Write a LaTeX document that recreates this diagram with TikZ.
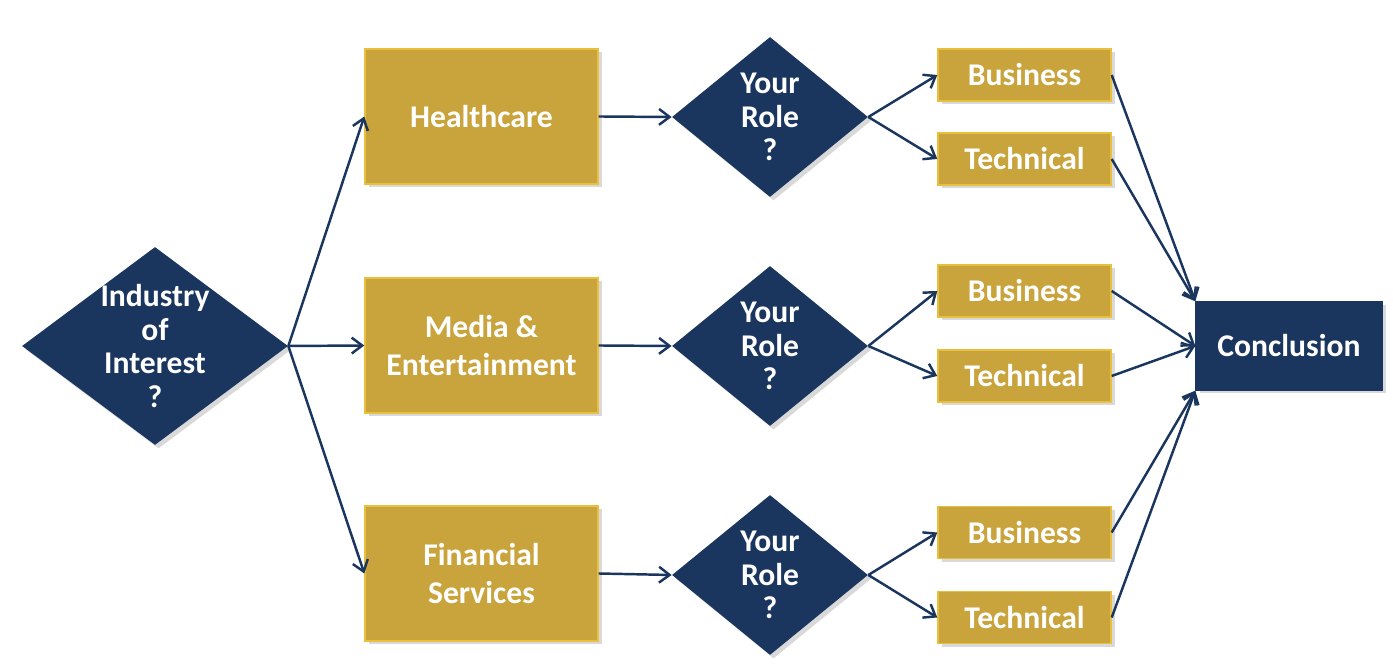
\documentclass[tikz,border=0pt]{standalone}
\usepackage{fontspec}
\setmainfont{Carlito}
\usepackage{tikz}
\usetikzlibrary{arrows.meta, shapes.geometric, shadows}
\definecolor{or}{RGB}{201,163,59}
\definecolor{orclair}{RGB}{232,192,62}
\definecolor{marine}{RGB}{26,54,94}

\tikzset{
  boite/.style={rectangle, fill=or, draw=orclair, line width=0.8pt,
    minimum width=4.66cm, minimum height=2.70cm, align=center,
    text=white, font=\bfseries\fontsize{18}{21.6}\selectfont,
    drop shadow={opacity=0.3, shadow xshift=0.07cm, shadow yshift=-0.07cm}},
  petite/.style={boite, minimum width=3.46cm, minimum height=1.04cm},
  choix/.style={diamond, fill=marine, draw=none, inner sep=0pt,
    drop shadow={opacity=0.3, shadow xshift=0.07cm, shadow yshift=-0.07cm}},
  texte/.style={align=center, text=white, inner sep=0pt,
    font=\bfseries\fontsize{18}{19}\selectfont},
  fleche/.style={-{Straight Barb[length=6pt, width=9pt]}, marine, line width=1.4pt}
}

\begin{document}
\begin{tikzpicture}
  \useasboundingbox (0,0) rectangle (27.86,13.32);

  % Question de depart
  \node[choix, minimum width=5.32cm, minimum height=3.96cm] (industrie) at (3.10,6.40) {};
  \node[texte] (industrietxt) at (industrie) {Industry\\of\\Interest\\?};

  % Secteurs
  \node[boite] (sante)   at (9.63,10.99) {Healthcare};
  \node[boite] (medias)  at (9.63,6.41)  {Media \&\\Entertainment};
  \node[boite] (finance) at (9.63,1.85)  {Financial\\Services};

  % Conclusion
  \node[boite, fill=marine, draw=marine, minimum width=3.72cm, minimum height=1.76cm]
    (conclusion) at (25.78,6.40) {Conclusion};

  \draw[fleche] (industrie.east) -- (sante.west);
  \draw[fleche] (industrie.east) -- (medias.west);
  \draw[fleche] (industrie.east) -- (finance.west);

  % Roles pour chaque secteur : y du losange, y de Business, y de Technical
  \foreach \secteur/\y/\yb/\yt/\fin in {sante/10.98/11.82/10.14/north west,
      medias/6.40/7.50/5.80/west, finance/1.82/2.67/0.97/south west} {
    \node[choix, minimum width=3.92cm, minimum height=3.20cm] (role-\secteur) at (15.40,\y) {};
    \node[texte] (roletxt-\secteur) at (role-\secteur) {Your\\Role\\?};
    \node[petite] (affaires-\secteur) at (20.49,\yb) {Business};
    \node[petite] (technique-\secteur) at (20.49,\yt) {Technical};
    \draw[fleche] (\secteur.east) -- (role-\secteur.west);
    \draw[fleche] (role-\secteur.east) -- (affaires-\secteur.west);
    \draw[fleche] (role-\secteur.east) -- (technique-\secteur.west);
    \draw[fleche] (affaires-\secteur.east) -- (conclusion.\fin);
    \draw[fleche] (technique-\secteur.east) -- (conclusion.\fin);
  }

\end{tikzpicture}
\end{document}
